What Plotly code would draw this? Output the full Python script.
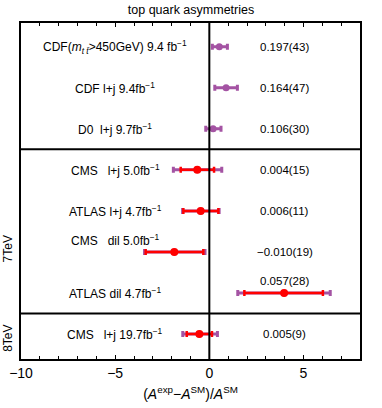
import plotly.graph_objects as go

NB = "\u00a0"
labels = [
    "CDF(<i>m</i><sub><i>t t̄</i></sub>>450GeV) 9.4 fb<sup>−1</sup>",
    "CDF l+j 9.4fb<sup>−1</sup>",
    "D0" + NB * 2 + "l+j 9.7fb<sup>−1</sup>",
    "CMS" + NB * 3 + "l+j 5.0fb<sup>−1</sup>",
    "ATLAS l+j 4.7fb<sup>−1</sup>",
    "CMS" + NB * 3 + "dil 5.0fb<sup>−1</sup>",
    "ATLAS dil 4.7fb<sup>−1</sup>",
    "CMS" + NB * 3 + "l+j 19.7fb<sup>−1</sup>",
]
value_text = ["0.197(43)", "0.164(47)", "0.106(30)", "0.004(15)",
              "0.006(11)", "−0.010(19)", "0.057(28)", "0.005(9)"]
rows = [1, 2, 3, 4, 5, 6, 7, 8]
central = [0.53, 0.89, 0.20, -0.64, -0.46, -1.86, 3.97, -0.53]
tot_minus = [0.37, 0.60, 0.39, 1.27, 0.96, 1.58, 2.46, 0.88]
tot_plus = [0.43, 0.60, 0.42, 1.30, 0.98, 1.63, 2.45, 0.96]
# stat errors only for LHC rows
stat_rows = [4, 5, 6, 7, 8]
stat_central = [-0.64, -0.46, -1.86, 3.97, -0.53]
stat_minus = [0.88, 0.92, 1.52, 2.11, 0.67]
stat_plus = [0.89, 0.94, 1.54, 2.06, 0.67]
label_shift = [0, 0, 0, 0, 0, 12, 0, 0]
value_shift = [0, 0, 0, 0, 0, 0, 12, 0]
label_x = -5
value_x = 4
sections = [("7TeV", 5.92), ("8TeV", 8.1)]
separators = [3.5, 7.5]

PURPLE = "#a453a3"
RED = "#ff0000"
FONT = "Liberation Sans, Arial, sans-serif"

fig = go.Figure()
fig.add_trace(go.Scatter(
    x=central, y=rows, mode="markers",
    marker=dict(color=PURPLE, size=7),
    error_x=dict(type="data", symmetric=False, array=tot_plus, arrayminus=tot_minus,
                 color=PURPLE, thickness=3, width=3),
    showlegend=False, hoverinfo="skip"))
fig.add_trace(go.Scatter(
    x=stat_central, y=stat_rows, mode="markers",
    marker=dict(color=RED, size=8),
    error_x=dict(type="data", symmetric=False, array=stat_plus, arrayminus=stat_minus,
                 color=RED, thickness=2.5, width=3),
    showlegend=False, hoverinfo="skip"))

anns = []
for lab, r, s in zip(labels, rows, label_shift):
    anns.append(dict(x=label_x, y=r, xref="x", yref="y", text=lab, showarrow=False,
                     yshift=s, font=dict(size=12, color="black", family=FONT)))
for v, r, s in zip(value_text, rows, value_shift):
    anns.append(dict(x=value_x, y=r, xref="x", yref="y", text=v, showarrow=False,
                     yshift=s, font=dict(size=11.5, color="black", family=FONT)))
for name, yy in sections:
    anns.append(dict(x=-0.039, y=yy, xref="paper", yref="y", text=name, showarrow=False,
                     xanchor="center", yanchor="middle",
                     textangle=-90, font=dict(size=12, color="black", family=FONT)))

shapes = [dict(type="line", xref="paper", yref="y", x0=0, x1=1, y0=s, y1=s,
               line=dict(color="black", width=2)) for s in separators]
shapes.append(dict(type="line", xref="x", yref="paper", x0=0, x1=0, y0=0, y1=1,
                   line=dict(color="black", width=2)))

fig.update_layout(
    width=382, height=408,
    margin=dict(l=21, r=22, t=23, b=49, autoexpand=False),
    paper_bgcolor="white", plot_bgcolor="white",
    font=dict(family=FONT, color="black"),
    title=dict(text="top quark asymmetries", x=0.5, xanchor="center",
               y=1 - 9.5 / 408, yanchor="middle", yref="container",
               font=dict(size=12.5, color="black", family=FONT)),
    annotations=anns, shapes=shapes,
    xaxis=dict(range=[-10, 8], tickvals=[-10, -5, 0, 5], ticks="inside", ticklen=4,
               tickwidth=1, tickcolor="black", showgrid=False, zeroline=False,
               showline=True, linecolor="black", linewidth=2, mirror="allticks",
               automargin=False,
               minor=dict(dtick=1, ticks="inside", ticklen=3, tickcolor="black", showgrid=False),
               tickfont=dict(size=14, family=FONT),
               title=dict(text="(<i>A</i><sup>exp</sup>−<i>A</i><sup>SM</sup>)/<i>A</i><sup>SM</sup>",
                          font=dict(size=14, family=FONT), standoff=9)),
    yaxis=dict(range=[8.61, 0.42], showticklabels=False, ticks="", showgrid=False,
               zeroline=False, showline=True, linecolor="black", linewidth=2, mirror=True,
               automargin=False),
)
fig.write_html("out.html", config={"displayModeBar": False},
               post_script="document.body.style.margin='0';document.body.style.overflow='hidden';")
